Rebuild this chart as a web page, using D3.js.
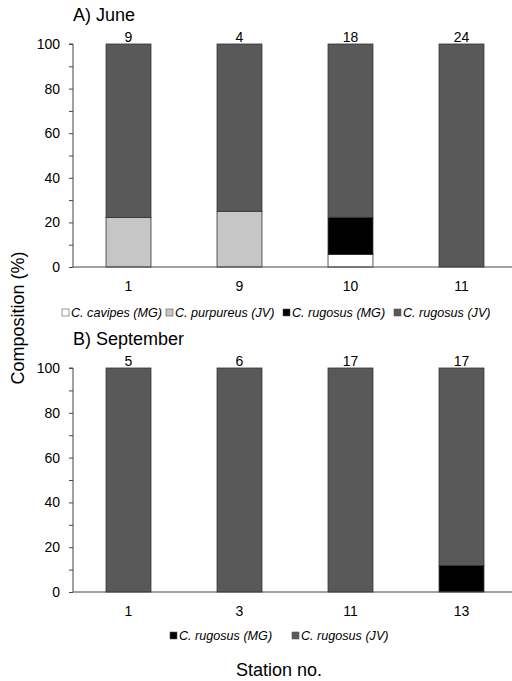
<!DOCTYPE html>
<html>
<head>
<meta charset="utf-8">
<script src="https://cdn.jsdelivr.net/npm/d3@7"></script>
<style>
  body { margin: 0; background: #fff; }
  svg text { font-family: "Liberation Sans", Arial, sans-serif; fill: #000; }
</style>
</head>
<body>
<div class="tuxing"></div>
<script>
// species (stack order bottom -> top)
var species = ["C. cavipes (MG)", "C. purpureus (JV)", "C. rugosus (MG)", "C. rugosus (JV)"];
var colors = ["#ffffff", "#c6c6c6", "#000000", "#595959"];

// A) June
var juneStations = ["1", "9", "10", "11"];
var juneN = [9, 4, 18, 24];
var juneCavipesMG = [0, 0, 5.6, 0];
var junePurpureusJV = [22.2, 25, 0, 0];
var juneRugosusMG = [0, 0, 16.7, 0];
var juneRugosusJV = [77.8, 75, 77.7, 100];

// B) September
var sepStations = ["1", "3", "11", "13"];
var sepN = [5, 6, 17, 17];
var sepCavipesMG = [0, 0, 0, 0];
var sepPurpureusJV = [0, 0, 0, 0];
var sepRugosusMG = [0, 0, 0, 11.8];
var sepRugosusJV = [100, 100, 100, 88.2];

var yTicks = [0, 20, 40, 60, 80, 100];

var width = 512, height = 681;

var svg = d3.select(".tuxing")
    .append("svg")
    .attr("width", width)
    .attr("height", height);

function panel(opt) {
    var rows = opt.stations.map(function (s, i) {
        return {
            st: s, n: opt.n[i],
            "C. cavipes (MG)": opt.vals[0][i],
            "C. purpureus (JV)": opt.vals[1][i],
            "C. rugosus (MG)": opt.vals[2][i],
            "C. rugosus (JV)": opt.vals[3][i]
        };
    });

    var x = d3.scaleBand().domain(opt.stations).range([73, 517]).paddingInner(0.595).paddingOuter(0.2975);
    var y = d3.scaleLinear().domain([0, 100]).range([opt.bottom, opt.top]);

    var g = svg.append("g");

    // title
    g.append("text")
        .attr("x", 73).attr("y", opt.top - 23)
        .attr("font-size", 18)
        .text(opt.title);

    // y axis
    var yAxis = d3.axisLeft(y).tickValues(d3.range(0, 101, 10)).tickSize(4)
        .tickFormat(function (d) { return yTicks.indexOf(d) >= 0 ? d : ""; });
    var ya = g.append("g").attr("transform", "translate(73,0)").call(yAxis);
    ya.select(".domain").attr("stroke", "#444").attr("d", "M-4," + y(100) + "H0V" + y(0));
    ya.selectAll(".tick line").attr("stroke", "#444");
    ya.selectAll(".tick text").attr("font-size", 14).attr("x", -13)
        .attr("font-family", '"Liberation Sans", Arial, sans-serif');

    // bars
    var stack = d3.stack().keys(species)(rows);
    g.selectAll("g.layer").data(stack).enter().append("g")
        .attr("fill", function (d, i) { return colors[i]; })
        .selectAll("rect").data(function (d) { return d.filter(function (e) { return e[1] - e[0] > 0; }); })
        .enter().append("rect")
        .attr("x", function (d) { return x(d.data.st); })
        .attr("width", x.bandwidth())
        .attr("y", function (d) { return y(d[1]); })
        .attr("height", function (d) { return y(d[0]) - y(d[1]); })
        .attr("stroke", "#333").attr("stroke-width", 0.8);

    // x baseline
    g.append("line").attr("x1", 73).attr("x2", 517)
        .attr("y1", y(0)).attr("y2", y(0))
        .attr("stroke", "#444").attr("stroke-width", 1);

    // station labels
    g.selectAll("text.st").data(rows).enter().append("text")
        .attr("x", function (d) { return x(d.st) + x.bandwidth() / 2; })
        .attr("y", y(0) + 24)
        .attr("text-anchor", "middle").attr("font-size", 14)
        .text(function (d) { return d.st; });

    // n labels
    g.selectAll("text.n").data(rows).enter().append("text")
        .attr("x", function (d) { return x(d.st) + x.bandwidth() / 2; })
        .attr("y", y(100) - 2)
        .attr("text-anchor", "middle").attr("font-size", 14)
        .text(function (d) { return d.n; });

    // legend
    var lg = g.selectAll("g.lg").data(opt.legend).enter().append("g")
        .attr("transform", function (d) { return "translate(" + d.x + "," + opt.legendY + ")"; });
    lg.append("rect").attr("x", 0).attr("y", -8).attr("width", 7).attr("height", 7)
        .attr("fill", function (d) { return colors[species.indexOf(d.key)]; })
        .attr("stroke", "#555").attr("stroke-width", 0.6);
    lg.append("text").attr("x", 9).attr("y", 0)
        .attr("font-size", 12.6).attr("font-style", "italic")
        .text(function (d) { return d.key; });
}

panel({
    title: "A) June", stations: juneStations, n: juneN,
    vals: [juneCavipesMG, junePurpureusJV, juneRugosusMG, juneRugosusJV],
    top: 44, bottom: 267, legendY: 317,
    legend: [{ key: species[0], x: 62 }, { key: species[1], x: 166 }, { key: species[2], x: 283 }, { key: species[3], x: 394 }]
});

panel({
    title: "B) September", stations: sepStations, n: sepN,
    vals: [sepCavipesMG, sepPurpureusJV, sepRugosusMG, sepRugosusJV],
    top: 368, bottom: 592, legendY: 640,
    legend: [{ key: species[2], x: 170 }, { key: species[3], x: 292 }]
});

// axis titles
svg.append("text")
    .attr("transform", "translate(24,318) rotate(-90)")
    .attr("text-anchor", "middle").attr("font-size", 18)
    .text("Composition (%)");

svg.append("text")
    .attr("x", 279).attr("y", 676)
    .attr("text-anchor", "middle").attr("font-size", 18)
    .text("Station no.");
</script>
</body>
</html>
